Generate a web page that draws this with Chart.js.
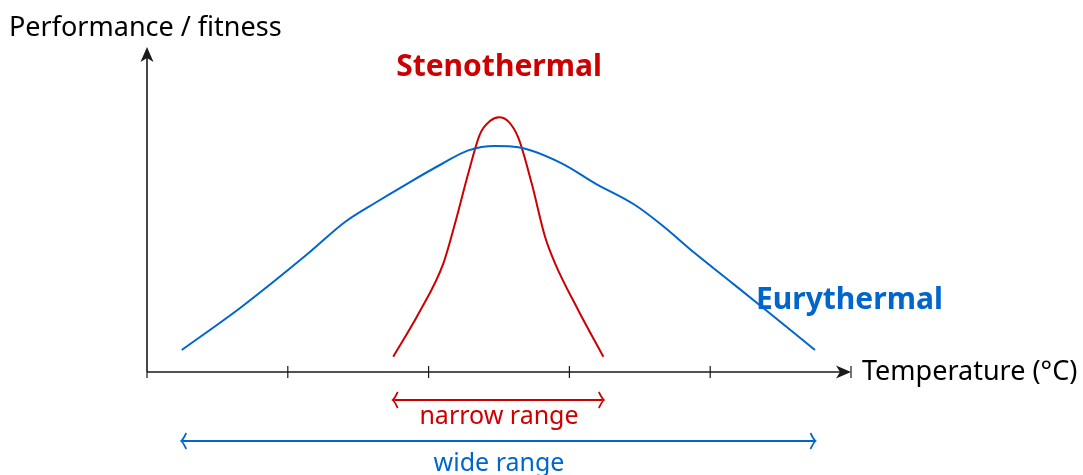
<!DOCTYPE html>
<html><head><meta charset="utf-8">
<script src="https://cdn.jsdelivr.net/npm/chart.js@4/dist/chart.umd.min.js"></script>
<style>html,body{margin:0;padding:0;background:#fff}#wrap{width:1083px;height:475px}</style>
</head><body><div id="wrap"><canvas id="c" width="1083" height="475"></canvas></div>
<script>
// Temperature (arbitrary units, tick every 10) and performance (0-100)
const xTicks = [0, 10, 20, 30, 40];
const euryX = [2.47, 6.73, 11.46, 14.06, 16.19, 18.56, 20.93, 22.82, 24.72, 26.37, 29.45, 31.82, 34.66, 36.56, 38.92, 41.29, 43.66, 47.44];
const euryY = [6.77, 20.09, 36.52, 46.15, 52.0, 58.15, 64.0, 68.2, 69.54, 69.14, 64.22, 58.06, 51.38, 45.23, 36.52, 28.31, 20.09, 6.77];
const stenoX = [17.49, 19.3, 21.05, 21.88, 22.82, 23.65, 24.36, 25.0, 25.66, 26.37, 27.32, 28.27, 28.98, 30.62, 32.41];
const stenoY = [4.71, 18.06, 33.45, 45.75, 61.14, 73.2, 77.2, 78.37, 77.1, 72.1, 58.06, 41.63, 33.45, 19.08, 4.71];
const narrowRange = [17.49, 32.41];
const wideRange = [2.47, 47.44];

const RED = '#cc0000', BLUE = '#0066cc', AX = '#1a1a1a';
const FONT = '"Noto Sans", "Open Sans", sans-serif';

function head(ctx, x, y, dir, filled, color) {
  ctx.save();
  ctx.fillStyle = color; ctx.strokeStyle = color;
  ctx.translate(x, y);
  const ang = dir === 'up' ? -Math.PI/2 : dir === 'left' ? Math.PI : 0;
  ctx.rotate(ang);
  if (filled) {
    ctx.beginPath();
    ctx.moveTo(0, 0);
    ctx.lineTo(-15, -6.5);
    ctx.lineTo(-11, 0);
    ctx.lineTo(-15, 6.5);
    ctx.closePath();
    ctx.fill();
  } else {
    ctx.lineWidth = 1.7;
    ctx.beginPath();
    ctx.moveTo(-4.5, -8);
    ctx.quadraticCurveTo(-1, -1, 0.5, 0);
    ctx.quadraticCurveTo(-1, 1, -4.5, 8);
    ctx.stroke();
  }
  ctx.restore();
}

const decor = {
  id: 'decor',
  beforeDatasetsDraw(chart) {
    const {ctx, scales: {x, y}} = chart;
    const x0 = x.getPixelForValue(0), y0 = y.getPixelForValue(0);
    const xEnd = x.getPixelForValue(50), yTop = y.getPixelForValue(100);
    ctx.save();
    ctx.strokeStyle = AX; ctx.lineWidth = 1.6;
    ctx.beginPath();
    ctx.moveTo(x0, y0); ctx.lineTo(xEnd - 4, y0);
    ctx.moveTo(x0, y0); ctx.lineTo(x0, yTop + 4);
    ctx.stroke();
    ctx.lineWidth = 1.2;
    ctx.beginPath();
    xTicks.forEach(t => {
      const px = x.getPixelForValue(t);
      ctx.moveTo(px, t === 0 ? y0 : y0 - 6); ctx.lineTo(px, y0 + 6);
    });
    ctx.moveTo(xEnd, y0 - 6); ctx.lineTo(xEnd, y0 + 6);
    ctx.stroke();
    head(ctx, xEnd, y0, 'right', true, AX);
    head(ctx, x0, yTop, 'up', true, AX);

    const ranges = [[narrowRange, 400, RED], [wideRange, 441, BLUE]];
    ranges.forEach(([r, py, col]) => {
      const a = x.getPixelForValue(r[0]), b = x.getPixelForValue(r[1]);
      ctx.strokeStyle = col; ctx.lineWidth = 2;
      ctx.beginPath(); ctx.moveTo(a + 1, py); ctx.lineTo(b - 1, py); ctx.stroke();
      head(ctx, a, py, 'left', false, col);
      head(ctx, b, py, 'right', false, col);
    });
    ctx.restore();
  },
  afterDatasetsDraw(chart) {
    const {ctx, scales: {x, y}} = chart;
    ctx.save();
    ctx.textBaseline = 'middle';
    ctx.fillStyle = '#000';
    ctx.font = '27px ' + FONT;
    ctx.textAlign = 'left';
    ctx.fillText('Performance / fitness', 9, 28);
    ctx.fillText('Temperature (\u00B0C)', 862, 372);
    ctx.textAlign = 'center';
    ctx.fillStyle = RED;
    ctx.font = 'bold 30px ' + FONT;
    ctx.fillText('Stenothermal', x.getPixelForValue(25), 67);
    ctx.font = '25px ' + FONT;
    ctx.fillText('narrow range', x.getPixelForValue(25), 417);
    ctx.fillStyle = BLUE;
    ctx.fillText('wide range', x.getPixelForValue(25), 464);
    ctx.font = 'bold 30px ' + FONT;
    ctx.textAlign = 'left';
    ctx.fillText('Eurythermal', 756, 300);
    ctx.restore();
  }
};

new Chart(document.getElementById('c'), {
  type: 'scatter',
  data: {
    datasets: [
      { label: 'Eurythermal', data: euryX.map((v, i) => ({x: v, y: euryY[i]})),
        showLine: true, borderColor: BLUE, borderWidth: 2, pointRadius: 0,
        cubicInterpolationMode: 'monotone', fill: false },
      { label: 'Stenothermal', data: stenoX.map((v, i) => ({x: v, y: stenoY[i]})),
        showLine: true, borderColor: RED, borderWidth: 2, pointRadius: 0,
        cubicInterpolationMode: 'monotone', fill: false }
    ]
  },
  options: {
    responsive: false, animation: false, devicePixelRatio: 1,
    layout: { padding: { left: 147, right: 232, top: 47, bottom: 103 } },
    plugins: { legend: { display: false }, tooltip: { enabled: false } },
    scales: {
      x: { type: 'linear', display: false, min: 0, max: 50 },
      y: { type: 'linear', display: false, min: 0, max: 100 }
    }
  },
  plugins: [decor]
});
</script></body></html>
